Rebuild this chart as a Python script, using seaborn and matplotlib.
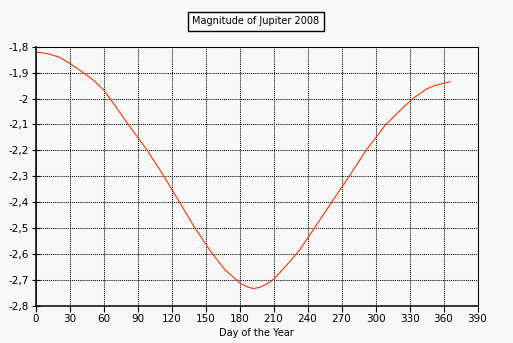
import seaborn as sns
import matplotlib.pyplot as plt
from matplotlib.ticker import FuncFormatter

# magnitude of Jupiter in 2008
days = [0, 12, 21, 30, 42, 51, 60, 65.6, 81.7, 98.5, 113.2, 127, 140.6,
        156.2, 167, 177.4, 180, 186, 192, 198, 204, 210, 222, 233.3, 245.8,
        261.2, 276.7, 291.5, 300, 309, 316, 323, 330, 333, 345, 352, 360, 366]
magnitude = [-1.820, -1.828, -1.841, -1.864, -1.9, -1.929, -1.967, -2.0,
             -2.1, -2.2, -2.3, -2.4, -2.5, -2.6, -2.66, -2.7, -2.711, -2.725,
             -2.733, -2.728, -2.715, -2.697, -2.64, -2.582, -2.501, -2.4, -2.3,
             -2.2, -2.152, -2.1, -2.07, -2.04, -2.012, -2.0, -1.963, -1.95,
             -1.941, -1.935]
x_ticks = list(range(0, 391, 30))
y_ticks = [-2.8, -2.7, -2.6, -2.5, -2.4, -2.3, -2.2, -2.1, -2.0, -1.9, -1.8]

bg = "#f8f8f8"
sns.set_theme(style="white")
plt.rcParams['font.family'] = ['DejaVu Sans']

fig = plt.figure(figsize=(5.13, 3.43), dpi=100, facecolor=bg)
ax = fig.add_axes([0.0696, 0.1079, 0.8612, 0.7559])
ax.set_facecolor(bg)

sns.lineplot(x=days, y=magnitude, color="#ff3300", linewidth=0.8, ax=ax)

ax.set_xlim(0, 390)
ax.set_ylim(-2.8, -1.8)
ax.set_xticks(x_ticks)
ax.set_yticks(y_ticks)
ax.yaxis.set_major_formatter(FuncFormatter(lambda v, p: ("%g" % round(v, 2)).replace(".", ",")))

ax.grid(True, color="black", linestyle=(0, (1, 1)), linewidth=0.75)
for s in ["left", "bottom"]:
    ax.spines[s].set_color("black")
    ax.spines[s].set_linewidth(1.1)
for s in ["top", "right"]:
    ax.spines[s].set_color("black")
    ax.spines[s].set_linestyle((0, (1, 1)))
    ax.spines[s].set_linewidth(0.75)

ax.tick_params(axis="y", direction="inout", length=6, width=0.8, colors="black", labelsize=7.5, pad=2)
ax.tick_params(axis="x", direction="out", length=4, width=0.8, colors="black", labelsize=7.5, pad=2)
ax.tick_params(left=True, bottom=True)

ax.set_xlabel("Day of the Year", fontsize=7, color="black", labelpad=3)
ax.set_ylabel("")

fig.text(0.4985, 0.938, "Magnitude of Jupiter 2008", ha="center", va="center",
         fontsize=7, color="black",
         bbox=dict(boxstyle="square,pad=0.45", facecolor=bg, edgecolor="black", linewidth=1))

fig.savefig("out.png", dpi=100, facecolor=bg)
